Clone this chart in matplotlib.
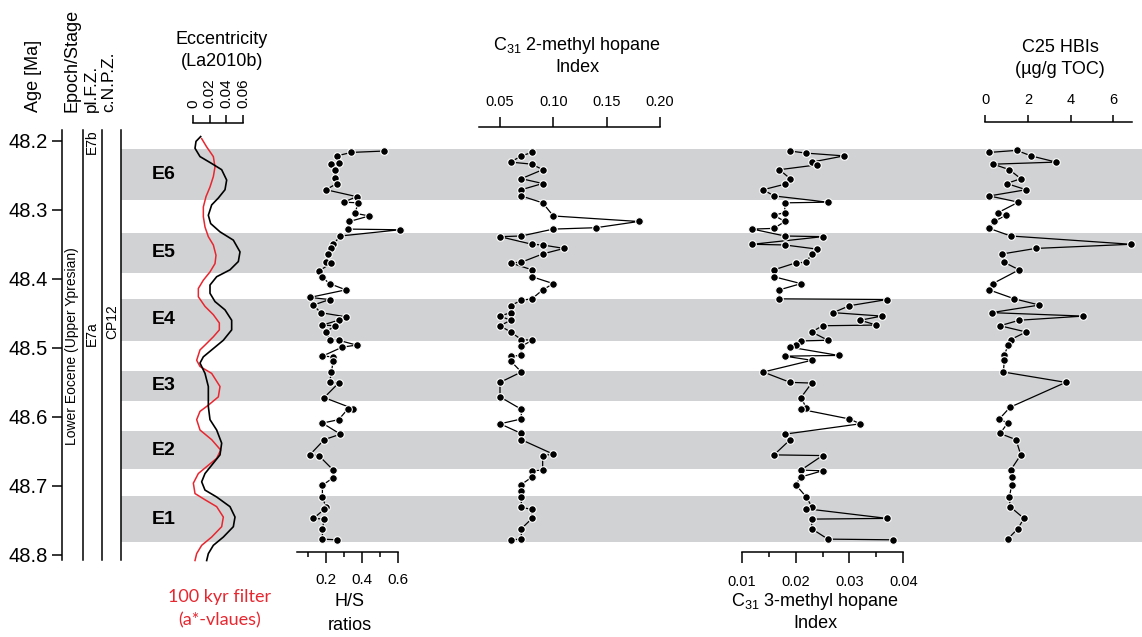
import numpy as np
import matplotlib.pyplot as plt

plt.rcParams['font.family'] = ['Liberation Sans', 'DejaVu Sans']
plt.rcParams['mathtext.fontset'] = 'custom'
plt.rcParams['mathtext.rm'] = 'Liberation Sans'
plt.rcParams['mathtext.default'] = 'regular'

# ---- data (ages in Ma) ----
band_names = ['E6', 'E5', 'E4', 'E3', 'E2', 'E1']
band_top = [48.2125, 48.333, 48.429, 48.533, 48.621, 48.715]
band_bot = [48.286, 48.392, 48.490, 48.577, 48.675, 48.781]

ecc_age = [48.194, 48.201, 48.211, 48.223, 48.233, 48.242, 48.257, 48.271, 48.283, 48.293,
           48.308, 48.320, 48.332, 48.344, 48.361, 48.375, 48.387, 48.397, 48.409, 48.421,
           48.433, 48.445, 48.460, 48.474, 48.489, 48.501, 48.513, 48.522, 48.537, 48.556,
           48.585, 48.604, 48.619, 48.638, 48.655, 48.670, 48.682, 48.694, 48.706, 48.716,
           48.730, 48.745, 48.759, 48.774, 48.786, 48.798, 48.808]
ecc_val = [0.0092, 0.0036, 0.0024, 0.0084, 0.0224, 0.0344, 0.0404, 0.0384, 0.0304, 0.0224,
           0.0184, 0.0212, 0.0324, 0.0484, 0.0564, 0.0544, 0.0444, 0.0284, 0.0204, 0.0204,
           0.0264, 0.0384, 0.0464, 0.0464, 0.0364, 0.0244, 0.0124, 0.0084, 0.0144, 0.0184,
           0.0184, 0.0204, 0.0284, 0.0344, 0.0324, 0.0224, 0.0144, 0.0104, 0.0144, 0.0284,
           0.0444, 0.0504, 0.0484, 0.0364, 0.0244, 0.0184, 0.0164]

filt_age = [48.197, 48.209, 48.223, 48.238, 48.252, 48.267, 48.281, 48.296, 48.310, 48.325,
            48.339, 48.351, 48.366, 48.378, 48.390, 48.402, 48.414, 48.426, 48.440, 48.452,
            48.464, 48.474, 48.484, 48.496, 48.503, 48.518, 48.527, 48.537, 48.556, 48.571,
            48.583, 48.592, 48.604, 48.619, 48.633, 48.648, 48.660, 48.672, 48.682, 48.696,
            48.711, 48.720, 48.730, 48.745, 48.759, 48.774, 48.786, 48.798, 48.808]
filt_val = [0.0104, 0.0164, 0.0244, 0.0264, 0.0244, 0.0204, 0.0156, 0.0124, 0.0124, 0.0144,
            0.0184, 0.0244, 0.0276, 0.0264, 0.0204, 0.0124, 0.0064, 0.0064, 0.0144, 0.0244,
            0.0316, 0.0316, 0.0244, 0.0144, 0.0084, 0.0044, 0.0084, 0.0224, 0.0324, 0.0304,
            0.0184, 0.0084, 0.0044, 0.0084, 0.0224, 0.0332, 0.0284, 0.0164, 0.0064, 0.0004,
            0.0024, 0.0144, 0.0284, 0.0364, 0.0344, 0.0224, 0.0104, 0.0044, 0.0024]

hs_age = [48.215, 48.217, 48.222, 48.232, 48.234, 48.242, 48.254, 48.262, 48.271, 48.281,
          48.289, 48.290, 48.305, 48.309, 48.317, 48.328, 48.329, 48.338, 48.350, 48.356,
          48.364, 48.376, 48.377, 48.389, 48.398, 48.407, 48.416, 48.427, 48.430, 48.438,
          48.449, 48.455, 48.460, 48.467, 48.468, 48.477, 48.488, 48.489, 48.496, 48.499,
          48.512, 48.513, 48.519, 48.535, 48.550, 48.551, 48.572, 48.588, 48.589, 48.604,
          48.609, 48.625, 48.633, 48.655, 48.656, 48.677, 48.688, 48.699, 48.716, 48.731,
          48.734, 48.747, 48.748, 48.762, 48.777, 48.778]
hs_val = [0.52, 0.34, 0.26, 0.27, 0.23, 0.25, 0.25, 0.26, 0.20, 0.37,
          0.30, 0.38, 0.36, 0.44, 0.33, 0.32, 0.61, 0.28, 0.24, 0.23,
          0.21, 0.20, 0.23, 0.16, 0.18, 0.22, 0.31, 0.11, 0.22, 0.13,
          0.17, 0.31, 0.27, 0.18, 0.25, 0.20, 0.22, 0.27, 0.37, 0.29,
          0.18, 0.24, 0.24, 0.23, 0.22, 0.27, 0.19, 0.35, 0.32, 0.27,
          0.18, 0.28, 0.19, 0.11, 0.16, 0.24, 0.24, 0.18, 0.18, 0.20,
          0.19, 0.13, 0.19, 0.18, 0.18, 0.26]

mh2_age = [48.217, 48.222, 48.231, 48.234, 48.242, 48.255, 48.262, 48.271, 48.280, 48.290,
           48.309, 48.317, 48.326, 48.328, 48.338, 48.339, 48.350, 48.351, 48.356, 48.364,
           48.376, 48.377, 48.387, 48.397, 48.407, 48.416, 48.429, 48.431, 48.439, 48.449,
           48.454, 48.460, 48.468, 48.477, 48.488, 48.489, 48.498, 48.511, 48.512, 48.519,
           48.535, 48.550, 48.571, 48.589, 48.603, 48.610, 48.624, 48.633, 48.654, 48.656,
           48.677, 48.678, 48.687, 48.698, 48.707, 48.716, 48.731, 48.734, 48.747, 48.762,
           48.777, 48.778]
mh2_val = [0.08, 0.07, 0.06, 0.08, 0.09, 0.07, 0.09, 0.07, 0.07, 0.09,
           0.10, 0.18, 0.14, 0.10, 0.07, 0.05, 0.08, 0.09, 0.11, 0.09,
           0.07, 0.06, 0.08, 0.08, 0.10, 0.09, 0.08, 0.07, 0.06, 0.06,
           0.05, 0.06, 0.05, 0.06, 0.07, 0.08, 0.07, 0.07, 0.06, 0.06,
           0.07, 0.05, 0.05, 0.07, 0.07, 0.05, 0.07, 0.07, 0.10, 0.09,
           0.09, 0.08, 0.08, 0.07, 0.07, 0.07, 0.07, 0.08, 0.08, 0.07,
           0.07, 0.06]

mh3_age = [48.215, 48.218, 48.222, 48.231, 48.235, 48.242, 48.255, 48.263, 48.271, 48.280,
           48.289, 48.290, 48.304, 48.308, 48.317, 48.327, 48.328, 48.338, 48.339, 48.350,
           48.351, 48.357, 48.364, 48.376, 48.377, 48.387, 48.397, 48.407, 48.416, 48.429,
           48.430, 48.439, 48.449, 48.454, 48.460, 48.467, 48.468, 48.477, 48.489, 48.490,
           48.496, 48.499, 48.511, 48.512, 48.518, 48.535, 48.550, 48.551, 48.572, 48.587,
           48.589, 48.603, 48.610, 48.625, 48.633, 48.655, 48.656, 48.677, 48.678, 48.687,
           48.698, 48.716, 48.730, 48.733, 48.747, 48.748, 48.762, 48.777, 48.778]
mh3_val = [0.019, 0.022, 0.029, 0.023, 0.024, 0.017, 0.019, 0.018, 0.014, 0.016,
           0.026, 0.018, 0.018, 0.016, 0.018, 0.016, 0.012, 0.018, 0.025, 0.012,
           0.018, 0.024, 0.023, 0.022, 0.020, 0.016, 0.016, 0.021, 0.017, 0.017,
           0.037, 0.030, 0.027, 0.036, 0.032, 0.035, 0.025, 0.023, 0.026, 0.021,
           0.020, 0.019, 0.028, 0.018, 0.023, 0.014, 0.019, 0.023, 0.021, 0.022,
           0.021, 0.030, 0.032, 0.018, 0.019, 0.016, 0.025, 0.021, 0.025, 0.021,
           0.020, 0.022, 0.023, 0.022, 0.037, 0.023, 0.023, 0.026, 0.038]

hbi_age = [48.217, 48.214, 48.222, 48.231, 48.234, 48.242, 48.255, 48.262, 48.271, 48.280,
           48.289, 48.304, 48.308, 48.317, 48.327, 48.338, 48.350, 48.356, 48.364, 48.376,
           48.387, 48.407, 48.416, 48.429, 48.438, 48.449, 48.454, 48.460, 48.468, 48.477,
           48.488, 48.496, 48.510, 48.518, 48.535, 48.550, 48.586, 48.603, 48.609, 48.624,
           48.633, 48.655, 48.677, 48.687, 48.698, 48.716, 48.730, 48.747, 48.762, 48.777]
hbi_val = [0.20, 1.48, 2.15, 3.32, 0.39, 1.14, 1.67, 1.01, 1.92, 0.20,
           1.56, 0.62, 0.97, 0.43, 0.20, 1.20, 6.82, 2.37, 0.81, 0.89,
           1.59, 0.36, 0.19, 1.37, 2.54, 0.31, 4.59, 1.60, 0.70, 1.92,
           1.20, 1.09, 0.90, 0.90, 0.86, 3.77, 1.17, 0.67, 1.06, 0.70,
           1.45, 1.67, 1.20, 1.25, 1.25, 1.14, 1.17, 1.82, 1.53, 1.06]

age_ticks = [48.2, 48.3, 48.4, 48.5, 48.6, 48.7, 48.8]

# ---- layout helpers (pixels of the 1142x637 picture) ----
W, H = 1142, 637
fig = plt.figure(figsize=(W / 100, H / 100), dpi=100)
RED = '#e8262f'
GREY = '#d1d2d4'


def px_box(x0, x1, y0, y1):
    return [x0 / W, 1 - y1 / H, (x1 - x0) / W, (y1 - y0) / H]


def age_at(y):
    return 48.2 + (y - 140.7) / 690.5


def add_panel(x0, x1, y0, y1):
    ax = fig.add_axes(px_box(x0, x1, y0, y1))
    ax.set_facecolor('none')
    ax.set_ylim(age_at(y1), age_at(y0))
    for s in ax.spines.values():
        s.set_visible(False)
        s.set_linewidth(1.1)
    ax.set_yticks([])
    return ax


def ftext(x, y, s, **kw):
    kw.setdefault('ha', 'center')
    kw.setdefault('va', 'center')
    kw.setdefault('fontsize', 13)
    fig.text(x / W, 1 - y / H, s, **kw)


dots = dict(color='black', lw=0.9, marker='o', ms=5.5, mfc='black', mec='white',
            mew=0.8, clip_on=False)

# background bands
bg = add_panel(121, 1142, 130, 560)
bg.set_xlim(0, 1)
bg.set_xticks([])
for name, a0, a1 in zip(band_names, band_top, band_bot):
    bg.axhspan(a0, a1, color=GREY, lw=0)
    bg.text(0.042, (a0 + a1) / 2, name, transform=bg.get_yaxis_transform(),
            ha='center', va='center', fontsize=14, fontweight='bold')

# age axis + stratigraphic columns
st = add_panel(62, 121, 130, 560)
st.set_xlim(62, 121)
st.set_xticks([])
st.spines['left'].set_visible(True)
st.set_yticks(age_ticks, ['%.1f' % a for a in age_ticks])
st.tick_params(axis='y', direction='out', length=7, width=1.1, labelsize=14.5, pad=3)
for xl in [82.7, 101.7, 121]:
    st.axvline(xl, color='black', lw=1.1, clip_on=False)
st.text(72, age_at(346), 'Lower Eocene (Upper Ypresian)', rotation=90, ha='center', va='center', fontsize=10)
st.text(92, age_at(142), 'E7b', rotation=90, ha='center', va='center', fontsize=10)
st.text(92, age_at(334), 'E7a', rotation=90, ha='center', va='center', fontsize=10)
st.text(112.5, age_at(322), 'CP12', rotation=90, ha='center', va='center', fontsize=10)

ftext(33, 112, 'Age [Ma]', rotation=90, va='bottom')
ftext(71.5, 112, 'Epoch/Stage', rotation=90, va='bottom')
ftext(91, 112, 'pl.F.Z.', rotation=90, va='bottom', fontsize=12.5)
ftext(108.5, 112, 'c.N.P.Z.', rotation=90, va='bottom', fontsize=12.5)

# eccentricity
ec = add_panel(193, 243, 122.7, 560)
ec.set_xlim(0, 0.06)
ec.spines['top'].set_visible(True)
ec.xaxis.tick_top()
ec.set_xticks([0, 0.02, 0.04, 0.06], ['0', '0.02', '0.04', '0.06'])
ec.tick_params(axis='x', labelrotation=90, length=5.5, width=1.1, pad=5, labelsize=11)
ec.plot(filt_val, filt_age, color=RED, lw=1.1, clip_on=False)
ec.plot(ecc_val, ecc_age, color='black', lw=1.2, clip_on=False)
ftext(222, 40, 'Eccentricity')
ftext(222, 62, '(La2010b)')
ftext(220, 597, '100 kyr filter', color=RED, family=['Lato', 'DejaVu Sans'])
ftext(220, 620, '(a*-vlaues)', color=RED, family=['Lato', 'DejaVu Sans'])

# H/S ratios
hs = add_panel(296.7, 398, 130, 551.7)
hs.set_xlim(0.0372, 0.6)
hs.spines['bottom'].set_visible(True)
hs.set_xticks([0.2, 0.4, 0.6], ['0.2', '0.4', '0.6'])
hs.set_xticks([0.1, 0.3, 0.5], minor=True)
hs.tick_params(axis='x', which='major', length=8, width=1.1, pad=7, labelsize=11)
hs.tick_params(axis='x', which='minor', length=3.5, width=1.1)
hs.plot(hs_val, hs_age, **dots)
ftext(350, 602, 'H/S')
ftext(350, 625, 'ratios')

# C31 2-methyl hopane index
m2 = add_panel(479.3, 660, 127.3, 560)
m2.set_xlim(0.0306, 0.2)
m2.spines['top'].set_visible(True)
m2.xaxis.tick_top()
m2.set_xticks([0.05, 0.10, 0.15, 0.20], ['0.05', '0.10', '0.15', '0.20'])
m2.tick_params(axis='x', length=7.5, width=1.1, pad=6, labelsize=10.5)
m2.plot(mh2_val, mh2_age, **dots)
ftext(577, 45, r'C$_{31}$ 2-methyl hopane')
ftext(577, 67, 'Index')

# C31 3-methyl hopane index
m3 = add_panel(741.7, 903.3, 130, 552.3)
m3.set_xlim(0.01, 0.04)
m3.spines['bottom'].set_visible(True)
m3.set_xticks([0.01, 0.02, 0.03, 0.04], ['0.01', '0.02', '0.03', '0.04'])
m3.set_xticks([0.015, 0.025, 0.035], minor=True)
m3.tick_params(axis='x', which='major', length=8, width=1.1, pad=8, labelsize=10.5)
m3.tick_params(axis='x', which='minor', length=3.5, width=1.1)
m3.plot(mh3_val, mh3_age, **dots)
ftext(815, 602, r'C$_{31}$ 3-methyl hopane')
ftext(815, 623, 'Index')

# C25 HBIs
hb = add_panel(985, 1131.7, 121.7, 560)
hb.set_xlim(0, 6.85)
hb.spines['top'].set_visible(True)
hb.xaxis.tick_top()
hb.set_xticks([0, 2, 4, 6], ['0', '2', '4', '6'])
hb.tick_params(axis='x', length=5, width=1.1, pad=5.5, labelsize=10.5)
hb.plot(hbi_val, hbi_age, **dots)
ftext(1060, 47, 'C25 HBIs')
ftext(1060, 70, '(µg/g TOC)')

fig.savefig('out.png', dpi=100)
